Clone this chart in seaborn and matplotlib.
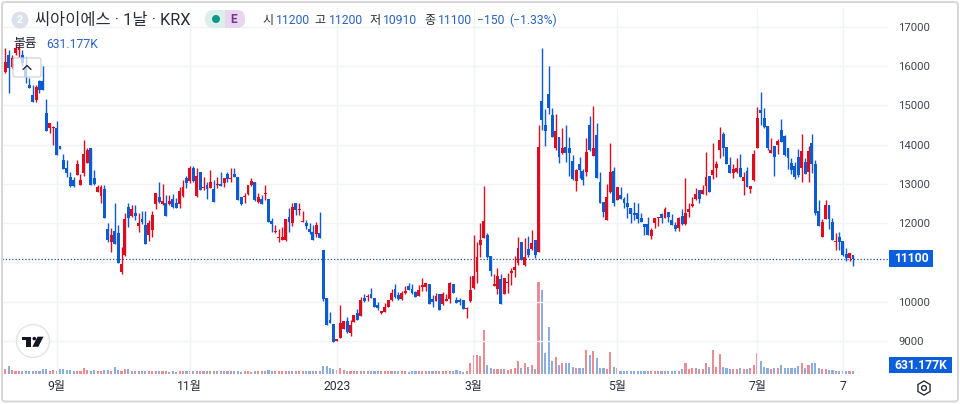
import pandas as pd
import matplotlib
matplotlib.use("Agg")
import matplotlib.pyplot as plt
import matplotlib.transforms as mtransforms
from matplotlib.patches import Circle, FancyBboxPatch, Polygon, Rectangle, RegularPolygon
from matplotlib.lines import Line2D
import seaborn as sns

opens = [
    15863,16287,15990,16347,16415,16287,15990,15523,15268,15141,
    15625,15625,14801,14436,14420,14428,13968,13611,13399,13187,
    13102,13229,12975,13272,13543,13908,13144,12805,12694,12873,
    11854,11531,11803,11752,10750,11192,12406,12194,12253,11939,
    12108,11956,11701,11828,12491,12677,12491,12508,12491,12618,
    12508,12491,12694,13161,13076,13416,12694,13306,12907,12975,
    12907,12873,12975,12992,13034,13255,13127,13255,13170,12660,
    12660,12737,12975,13042,12550,12618,12737,12618,12058,11778,
    11633,11574,11574,12151,12000,12508,12346,12041,12007,11854,
    11786,11726,11744,11319,10088,9528,9435,9002,9087,9307,
    9520,9214,9494,9706,9647,10088,10131,10199,10097,9919,
    9706,9749,9876,10046,10318,10173,10071,10216,10403,10318,
    10241,10156,10386,10386,10454,10071,10020,10199,9944,10029,
    10071,10454,10046,10046,10046,9817,10020,10360,10767,11447,
    11633,11701,11167,10411,10326,10572,10199,10470,10742,10810,
    10980,11532,10937,11345,11345,11574,11277,15115,14504,15294,
    14759,13927,14190,13782,13952,13910,13587,13078,13502,13341,
    13315,14504,13714,14249,13044,12534,12084,12789,13332,12594,
    12713,12628,12526,12398,12254,12254,12135,11974,11974,11685,
    12016,12127,12237,12143,12297,12084,11957,11872,12186,11974,
    12297,12441,12611,12848,12738,12950,13205,13230,13417,13867,
    14275,13935,13485,13273,13315,13400,13086,13341,12874,13103,
    13927,14886,14691,14478,13782,13969,13995,14376,14232,13910,
    13527,13460,13680,13400,13570,13315,14054,13511,12313,11660,
    12110,12466,12025,11515,11643,11549,11218,11125,11200,
]
closes = [
    16117,15948,16200,16457,16500,16075,15718,15455,15098,15480,
    15396,15396,14360,14564,14460,13739,13900,13382,13289,12958,
    12958,13509,13102,13764,13866,12975,13000,12932,12932,12126,
    11574,11701,11472,10996,10950,12108,12142,12363,12185,12007,
    12024,11480,12015,12210,12762,12533,12567,12194,12567,12423,
    12397,12830,12932,13017,13416,13076,13204,12847,12932,12864,
    13059,12550,13000,12958,13144,13127,13161,13170,12592,12491,
    12677,12975,13085,12592,12660,12491,12762,12024,11990,11803,
    11659,11642,12108,12041,12423,12338,12363,12058,11939,11786,
    11574,11956,11625,10080,9418,9469,8985,9044,9452,9520,
    9239,9409,9664,9537,10046,10020,10148,10088,9876,9834,
    9766,9876,10046,10216,10131,10071,10216,10275,10301,10216,
    10131,10301,10428,10470,9944,10003,10148,9791,10199,10071,
    10487,10233,9978,9995,9825,9851,10301,10657,11133,11574,
    12058,11150,10793,10453,10657,9944,10615,10513,10793,10878,
    11362,11065,11133,11192,11489,11192,13935,14631,14360,14929,
    14207,14351,13698,13910,13782,13799,13120,13358,13358,13103,
    13808,13867,13910,13163,12526,12288,12662,13298,12509,12916,
    12628,12509,12424,12229,12212,12118,12042,11915,11702,11830,
    12143,12152,12143,12365,12169,11949,11855,12143,11991,12254,
    12365,12500,12738,12619,12848,13171,12789,13358,13502,14122,
    13910,13511,13273,13375,13400,13188,13188,12916,12950,13765,
    14691,14818,14444,13910,13867,13697,14096,14062,13740,13672,
    13358,13171,13230,13850,13256,13842,13511,12271,11940,12025,
    12466,12110,11575,11549,11532,11193,11125,11252,11100,
]
highs = [
    16457,16414,16280,16580,16580,16414,16245,15693,15523,15523,
    15640,16007,15166,14564,14480,14615,13968,13764,13611,13297,
    13187,13611,13246,14121,13908,13908,13357,12975,12975,12975,
    11998,11871,12508,11956,11400,12253,12508,12465,12465,12253,
    12312,12312,12083,12312,12762,13042,13000,12720,12720,12737,
    12635,12915,13102,13212,13458,13458,13399,13306,13187,13059,
    13357,13102,13187,13297,13144,13314,13399,13399,13170,12660,
    12779,12975,13144,13042,12762,12720,12975,12618,12126,11956,
    11845,11913,12108,12380,12508,12508,12508,12312,12083,11998,
    11956,12024,12296,11319,10088,9732,9435,9044,9919,9520,
    9621,9537,9664,9808,10131,10190,10199,10343,10097,10003,
    9766,9961,10046,10318,10454,10258,10284,10403,10487,10454,
    10284,10428,10606,10470,10454,10173,10216,10199,10258,10190,
    10513,10454,10131,10105,10046,9876,10657,11701,11532,12000,
    12950,11744,11167,10708,10853,10700,10615,10742,10853,11167,
    11659,11532,11617,11676,11829,11574,14504,16457,14912,16007,
    14929,14784,14190,14419,14504,14190,13740,13375,13680,13375,
    14165,14733,14988,14547,13315,12534,13001,14037,13426,12916,
    12916,12679,12764,12398,12534,12509,12254,11974,12152,11872,
    12143,12152,12271,12407,12297,12237,12042,12169,12356,13146,
    12509,12679,12908,12848,12976,13808,13205,14037,13596,14445,
    14334,13935,13680,13502,13655,13765,13315,13426,12950,13867,
    14954,15336,14928,14478,14164,13969,14139,14657,14249,13910,
    13655,13553,13893,14275,13655,13969,14275,13612,12594,12101,
    12594,12466,12127,11745,11787,11549,11363,11252,11200,
]
lows = [
    15837,15328,15950,16287,16245,16000,15565,15455,15098,15098,
    15328,15396,14360,14292,14000,13739,13900,13382,13170,12932,
    12932,13229,12975,13212,13543,12975,12975,12788,12508,12126,
    11514,11277,11472,10996,10700,11170,11913,12168,12083,11769,
    11973,11480,11548,11659,12363,12508,12465,12194,12465,12397,
    12397,12397,12677,12890,13017,13059,12677,12847,12847,12618,
    12890,12550,12890,12958,12915,13059,13059,13170,12592,12465,
    12508,12720,12958,12575,12508,12491,12592,12024,11786,11744,
    11514,11574,11548,11769,11939,12210,12210,12041,11854,11726,
    11574,11659,11625,10013,9418,9469,8985,9002,9087,9307,
    9197,9137,9494,9537,9647,10003,10020,10088,9876,9791,
    9681,9732,9876,10029,10088,10046,10046,10199,10301,10199,
    10114,10156,10284,10284,9944,9876,10020,9791,9919,10029,
    9961,10233,9978,9919,9825,9579,10003,10318,10487,11133,
    11617,11107,10657,10411,10199,9944,10199,10216,10428,10640,
    10937,11065,10912,11133,11319,11107,11277,14377,13969,14784,
    14207,13867,13545,13765,13570,13205,13103,12832,13163,12976,
    13205,13850,13714,13163,12509,12169,12084,12764,12449,12594,
    12628,12382,12127,12017,12084,12000,12042,11702,11702,11592,
    11872,11940,12000,12127,12042,11949,11813,11813,11957,11957,
    12169,12424,12594,12526,12738,12721,12789,13120,13171,13655,
    13714,13511,13273,13146,13273,13188,12721,12916,12780,13086,
    13927,14504,14419,13867,13782,13205,13765,14062,13714,13383,
    13247,13128,13188,13060,13256,13060,13273,12212,11940,11660,
    12110,11855,11575,11320,11320,11176,11048,11048,10910,
]
# 거래량 (K)
volumes = [
    950,1800,800,650,650,650,650,650,650,650,
    650,950,1150,650,800,650,1100,950,850,800,
    700,700,650,1400,900,650,750,700,650,750,
    800,700,1600,900,700,1150,1150,550,550,600,
    600,600,700,650,700,650,500,500,450,500,
    450,500,550,500,600,550,500,500,500,550,
    550,550,500,550,500,600,500,600,550,450,
    500,500,450,500,500,500,500,800,550,500,
    550,500,500,500,550,550,500,550,500,500,
    500,500,700,1800,1800,1200,1000,800,1300,900,
    550,500,500,550,600,500,500,550,600,500,
    500,500,500,500,500,500,500,500,450,500,
    500,500,550,600,550,500,500,500,500,500,
    500,600,800,650,400,630,2600,4400,4400,4200,
    10350,2050,1200,950,1100,950,1100,800,1030,1420,
    3000,1420,2370,1500,1900,950,21700,19800,4900,11060,
    3000,3950,1900,2370,2600,2370,1580,1200,1200,1200,
    5600,4420,5370,3700,1420,1420,950,5130,1580,1200,
    650,650,650,650,650,650,650,650,650,650,
    650,650,650,650,650,650,650,650,950,2370,
    950,1200,1200,950,950,2530,1580,5600,1580,4660,
    1580,1200,950,950,950,1200,950,950,1200,2130,
    4900,3000,1580,1420,950,1340,1200,2130,1420,1200,
    1200,1200,1660,2530,1200,2130,2370,2600,1340,950,
    950,800,800,630,630,630,630,630,631.177,
]
tick_pos = [15, 54, 97, 137, 179, 220, 245]
tick_labels = ["9월", "11월", "2023", "3월", "5월", "7월", "7"]
grid_prices = [9000, 10000, 11000, 12000, 13000, 14000, 15000, 16000, 17000]
last_price = 11100

RED = "#dd0c1f"
BLUE = "#0b5bd3"
TEXT = "#2a2e39"
VALUE = "#2962c4"
TAG = "#0b5fdc"

sns.set_theme(style="white")
plt.rcParams["font.family"] = ["Roboto", "Noto Sans CJK KR", "DejaVu Sans"]

df = pd.DataFrame({"i": range(len(closes)), "open": opens, "high": highs,
                   "low": lows, "close": closes, "volume": volumes})
df["dir"] = ["up" if c >= o else "down" for o, c in zip(df["open"], df["close"])]
up = df[df["dir"] == "up"]
down = df[df["dir"] == "down"]

fig = plt.figure(figsize=(9.6, 4.04), dpi=100, facecolor="white")
ax = fig.add_axes([3 / 960, 1 - 373.5 / 404, 885 / 960, 365.5 / 404])
ax.set_zorder(2)
ax.patch.set_visible(False)
ax2 = ax.twinx()
ax2.set_zorder(1)

# 거래량
sns.barplot(data=df, x="i", y="volume", hue="dir", palette={"up": "#e98d95", "down": "#8dacdf"},
            hue_order=["up", "down"], native_scale=True, dodge=False, width=0.62,
            saturation=1, errorbar=None, legend=False, linewidth=0, ax=ax2)
ax2.set_ylim(0, 86600)
ax2.set_yticks([])
ax2.set_ylabel("")
for s in ax2.spines.values():
    s.set_visible(False)

# 캔들
for part, color in [(up, RED), (down, BLUE)]:
    ax.vlines(part["i"], part["low"], part["high"], color=color, lw=1.0, zorder=3)
    ax.bar(part["i"], (part["close"] - part["open"]).abs().clip(lower=25),
           bottom=part[["open", "close"]].min(axis=1), width=0.85, color=color, lw=0, zorder=4)

ax.hlines(last_price, -1, 300, color="#1d4f9c", lw=0.9, linestyles=(0, (1, 1.6)), zorder=2)

ax.set_xlim(-0.673, 258.25)
ax.set_ylim(8170, 17484)
ax.set_xticks(tick_pos, tick_labels)
ax.yaxis.tick_right()
ax.set_yticks(grid_prices)
ax.set_yticklabels(["" if p == 11000 else str(p) for p in grid_prices])
ax.tick_params(axis="x", length=0, pad=5, labelsize=8.7, labelcolor=TEXT)
ax.tick_params(axis="y", length=0, pad=7.5, labelsize=8.2, labelcolor="#434651")
ax.grid(True, color="#f0f3f7", lw=1)
ax.set_axisbelow(True)
for s in ax.spines.values():
    s.set_visible(False)

# 픽셀 좌표 (y 아래 방향)
px = mtransforms.Affine2D().scale(1, -1).translate(0, 404)

def label(x, y, s, color=TEXT, size=8.7, ha="left", **kw):
    fig.text(x, y, s, transform=px, color=color, fontsize=size, ha=ha, va="center", zorder=20, **kw)

def add(artist):
    artist.set_transform(px)
    artist.set_zorder(15)
    fig.add_artist(artist)

# 바깥 테두리
add(FancyBboxPatch((2, 2), 956, 399.5, boxstyle="round,pad=0,rounding_size=3", fc="none", ec="#d6d6d6", lw=1.4))

# 헤더
add(Circle((20, 20), 8.5, fc="#dde0ea", ec="none"))
label(20, 20, "2", color="white", size=7.5, ha="center", fontweight="bold")
label(35, 20, "씨아이에스 · 1날 · KRX", size=11.8)
add(FancyBboxPatch((205, 10), 40, 18, boxstyle="round,pad=0,rounding_size=8.5", fc="#dcefec", ec="none"))
add(FancyBboxPatch((225, 10), 20, 18, boxstyle="round,pad=0,rounding_size=8.5", fc="#e7d6ee", ec="none"))
add(Rectangle((225, 10), 9, 18, fc="#e7d6ee", ec="none"))
add(Circle((216, 19), 4, fc="#089981", ec="none"))
label(234, 19.5, "E", color="#7b2f96", size=8.6, ha="center", fontweight="bold")

for x, s, color in [(262, "시", TEXT), (276, "11200", VALUE), (314, "고", TEXT), (329, "11200", VALUE),
                    (369, "저", TEXT), (383, "10910", VALUE), (424, "종", TEXT), (438, "11100", VALUE),
                    (477, "−150", VALUE), (509, "(−1.33%)", VALUE)]:
    label(x, 20.5, s, color=color)

label(13, 44, "볼륨", size=9.2)
label(46, 44, "631.177K", color=VALUE, size=8.7)

# 접기 버튼
add(FancyBboxPatch((13, 58), 28, 19, boxstyle="round,pad=0,rounding_size=2", fc=(1, 1, 1, 0.72), ec="#c9ccd4", lw=0.8))
add(Line2D([23, 27, 31], [69.5, 65.5, 69.5], color="#2a2e39", lw=1))

# 로고
add(Circle((33, 341), 16.5, fc="white", ec="#e0e3eb", lw=1))
add(Polygon([(22, 336.7), (30.7, 336.7), (30.7, 346.8), (25.8, 346.8), (25.8, 340.2), (22, 340.2)], fc="#131722", ec="none"))
add(Circle((34.3, 338.6), 1.8, fc="#131722", ec="none"))
add(Polygon([(37.5, 336.7), (43.5, 336.7), (38.3, 346.8), (32.4, 346.8)], fc="#131722", ec="none"))

# 가격, 거래량 태그
add(Rectangle((889, 250), 44, 17, fc=TAG, ec="none"))
label(911, 258.5, "11100", color="white", size=8.7, ha="center", fontweight="bold")
add(Rectangle((889, 357), 63, 16, fc=TAG, ec="none"))
label(920.5, 365.5, "631.177K", color="white", size=8.7, ha="center", fontweight="bold")

# 설정 아이콘
add(RegularPolygon((924, 388), 6, radius=7, fc="none", ec="#2a2e39", lw=1))
add(Circle((924, 388), 2.4, fc="none", ec="#2a2e39", lw=1))

fig.savefig("out.png", dpi=100)
